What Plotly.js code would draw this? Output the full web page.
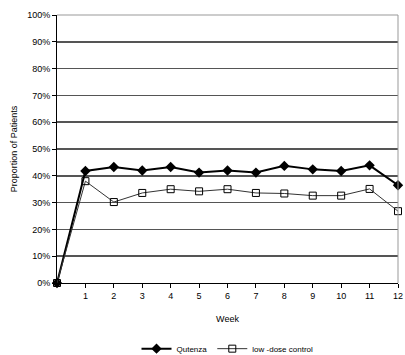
<!DOCTYPE html>
<html><head><meta charset="utf-8">
<script src="https://cdn.plot.ly/plotly-3.0.1.min.js"></script>
<style>html,body{margin:0;padding:0;background:#fff}#c{width:405px;height:355px}</style>
</head><body><div id="c"></div>
<script>
const weeks = [0,1,2,3,4,5,6,7,8,9,10,11,12];
const qutenza = [0,0.418,0.433,0.420,0.433,0.412,0.420,0.412,0.437,0.424,0.418,0.439,0.365];
const lowDose = [0,0.380,0.302,0.336,0.350,0.342,0.350,0.336,0.334,0.326,0.326,0.351,0.268];
const tickVals = [1,2,3,4,5,6,7,8,9,10,11,12];
const tickText = ['1','2','3','4','5','6','7','8','9','10','11','12'];
const F = 'Liberation Sans, Arial, sans-serif';
const traces = [
 {x:weeks,y:qutenza,name:'Qutenza',mode:'lines+markers',cliponaxis:false,
  line:{color:'#000',width:2},marker:{symbol:'diamond',size:8,color:'#000'}},
 {x:weeks,y:lowDose,name:'low -dose control',mode:'lines+markers',cliponaxis:false,
  line:{color:'#333',width:1},marker:{symbol:'square-open',size:7,color:'#000',line:{width:1}}}
];
const layout = {
 width:405,height:355,margin:{l:57,r:7,t:15,b:72,autoexpand:false},
 paper_bgcolor:'#fff',plot_bgcolor:'#fff',showlegend:true,
 font:{family:F,size:9,color:'#000'},
 xaxis:{range:[0,12],tickvals:tickVals,ticktext:tickText,ticks:'outside',ticklen:4,tickcolor:'#000',
  showgrid:false,zeroline:false,showline:true,linecolor:'#000',linewidth:1,mirror:false,
  title:{text:'Week',font:{family:F,size:9},standoff:15},tickfont:{family:F,size:9}},
 yaxis:{range:[0,1],dtick:0.1,tickformat:'.0%',ticks:'outside',ticklen:4,tickcolor:'#000',
  showgrid:true,gridcolor:'#555',gridwidth:1.5,zeroline:false,showline:true,linecolor:'#000',linewidth:1,
  title:{text:'Proportion of Patients',font:{family:F,size:9},standoff:8},tickfont:{family:F,size:9}},
 legend:{orientation:'h',x:0.5,xanchor:'center',y:-0.245,yanchor:'middle',font:{family:F,size:8},
  itemwidth:30,tracegroupgap:0},
 shapes:[
  {type:'line',xref:'paper',yref:'paper',x0:0,x1:1,y0:1,y1:1,line:{color:'#999',width:1}},
  {type:'line',xref:'paper',yref:'paper',x0:1,x1:1,y0:0,y1:1,line:{color:'#999',width:1}}
 ]
};
Plotly.newPlot('c',traces,layout,{displayModeBar:false,staticPlot:true});
</script></body></html>
